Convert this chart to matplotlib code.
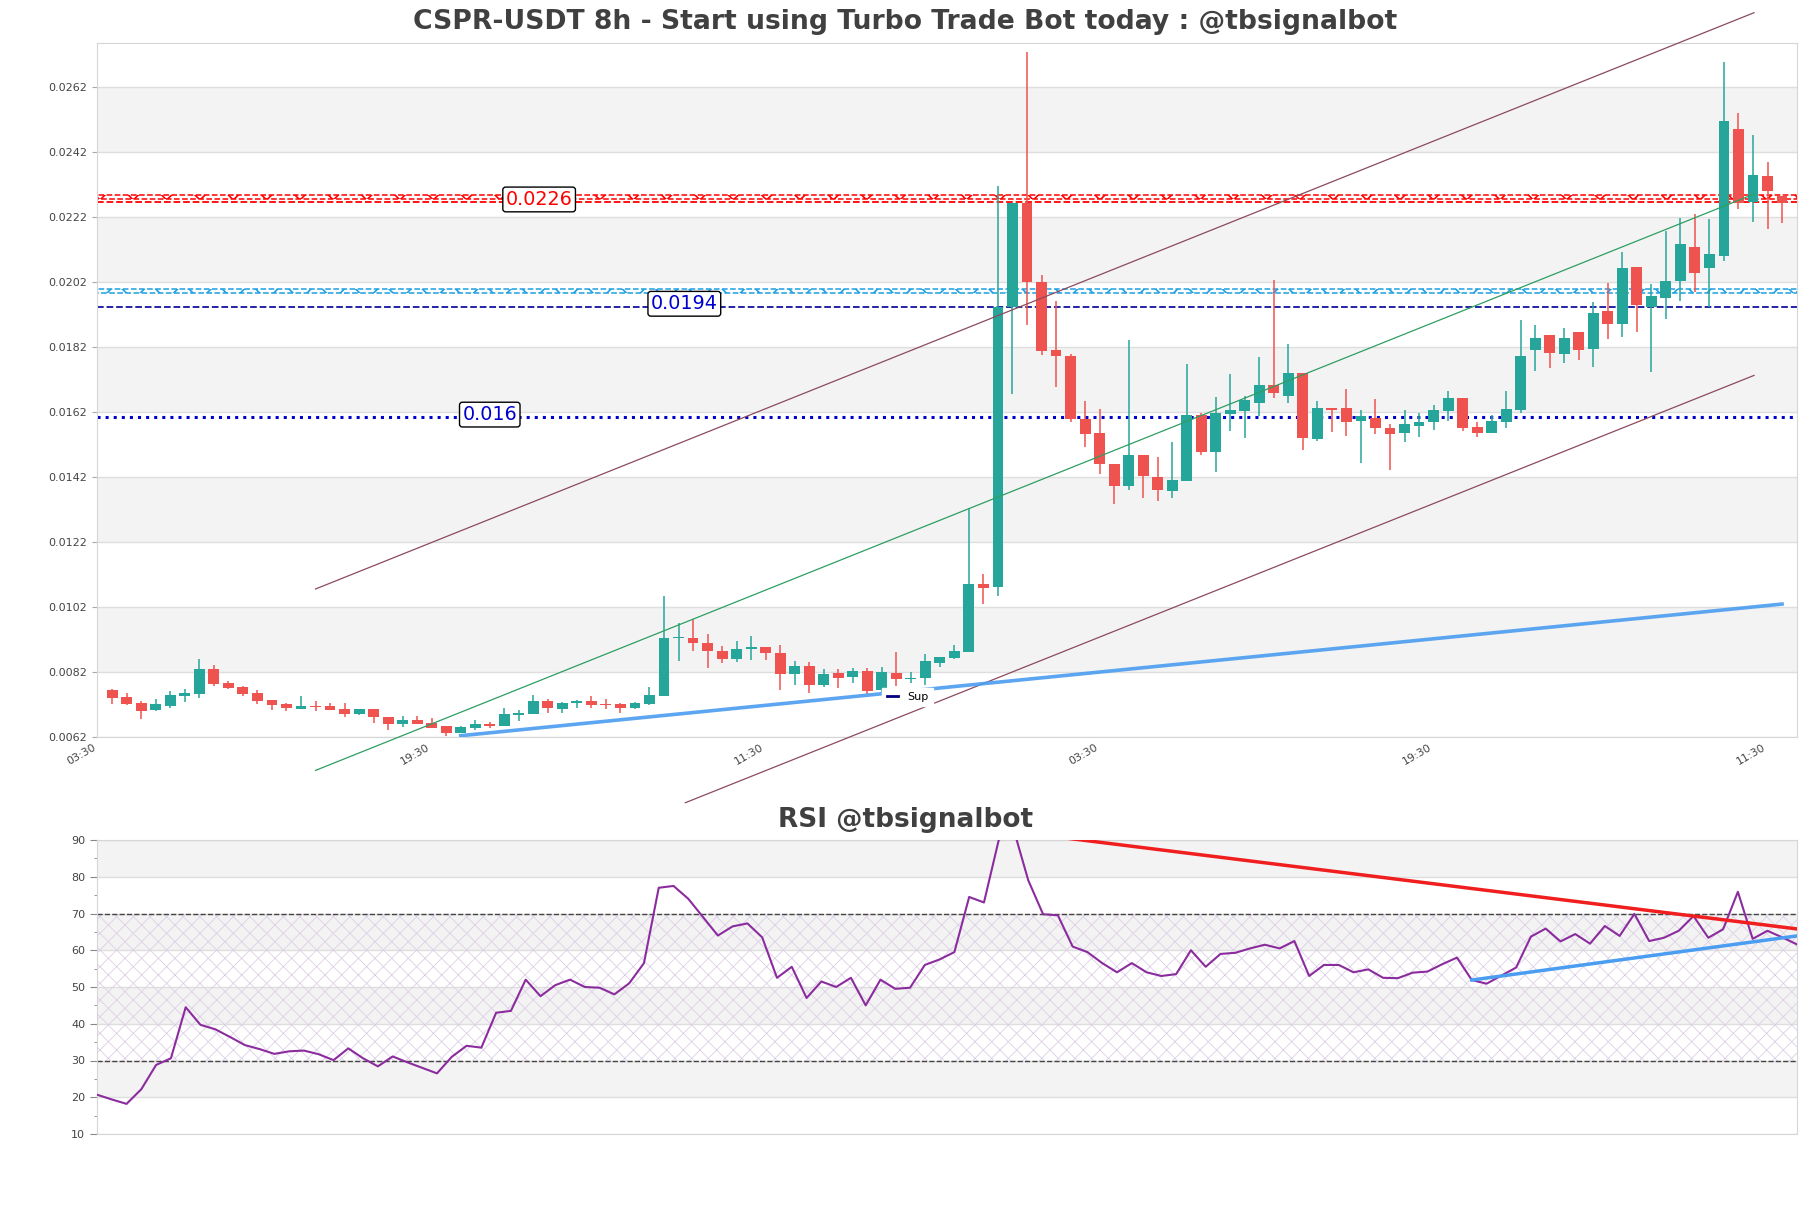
import numpy as np
import matplotlib
matplotlib.use('Agg')
import matplotlib.pyplot as plt
from matplotlib.lines import Line2D

# ---- data (8h candles, index 0..115) ----
opens = [0.007646, 0.007431, 0.007246, 0.007031, 0.007154, 0.007472, 0.007523, 0.008292, 0.007862, 0.007738,
         0.007554, 0.007338, 0.007215, 0.007072, 0.007154, 0.007154, 0.007062, 0.006918, 0.007072, 0.006815,
         0.00661, 0.006723, 0.006631, 0.006538, 0.006333, 0.006487, 0.0066, 0.006549, 0.006887, 0.006897,
         0.007308, 0.007072, 0.007236, 0.007308, 0.007215, 0.007205, 0.007103, 0.007226, 0.007472, 0.009236,
         0.009236, 0.009092, 0.008836, 0.00861, 0.008918, 0.008959, 0.008774, 0.008138, 0.008385, 0.0078,
         0.008169, 0.008056, 0.008231, 0.007646, 0.008169, 0.007974, 0.008005, 0.008487, 0.008641, 0.008815,
         0.010897, 0.010806, 0.019446, 0.022634, 0.0202, 0.018102, 0.017935, 0.015975, 0.015551, 0.014588,
         0.013938, 0.014891, 0.014185, 0.013772, 0.014085, 0.016123, 0.014982, 0.016145, 0.016233, 0.01648,
         0.01704, 0.016705, 0.017409, 0.015372, 0.016323, 0.016323, 0.015932, 0.016009, 0.015706, 0.015563,
         0.015779, 0.015883, 0.01624, 0.016621, 0.015728, 0.015545, 0.015901, 0.016262, 0.018108, 0.018569,
         0.017975, 0.018652, 0.018148, 0.019308, 0.018917, 0.020652, 0.01944, 0.019717, 0.020221, 0.021268,
         0.02064, 0.021009, 0.024898, 0.022652, 0.023461, 0.022855]
highs = [0.007667, 0.007544, 0.007308, 0.007369, 0.007615, 0.007667, 0.0086, 0.008415, 0.007923, 0.007769,
         0.007646, 0.007338, 0.007246, 0.007451, 0.007308, 0.007246, 0.007246, 0.007062, 0.007072, 0.006815,
         0.006836, 0.006836, 0.006785, 0.006538, 0.006538, 0.006713, 0.006662, 0.007092, 0.007031, 0.007482,
         0.007369, 0.007267, 0.007338, 0.007462, 0.007359, 0.007236, 0.007267, 0.007728, 0.010538, 0.009697,
         0.00982, 0.009369, 0.009, 0.009144, 0.009308, 0.008959, 0.009041, 0.008538, 0.008508, 0.008282,
         0.008282, 0.008323, 0.008323, 0.008364, 0.008815, 0.0082, 0.008754, 0.008662, 0.00902, 0.013236,
         0.011205, 0.023169, 0.022634, 0.027277, 0.02043, 0.019624, 0.01799, 0.016535, 0.01629, 0.0146,
         0.018415, 0.014891, 0.014812, 0.015283, 0.017689, 0.016178, 0.016658, 0.017375, 0.01668, 0.017889,
         0.020262, 0.018305, 0.017409, 0.016535, 0.016323, 0.016905, 0.016255, 0.016591, 0.015842, 0.016262,
         0.01616, 0.016415, 0.016846, 0.016621, 0.015901, 0.016108, 0.016856, 0.01903, 0.018877, 0.018569,
         0.018794, 0.018652, 0.019594, 0.02016, 0.021114, 0.020652, 0.020129, 0.021769, 0.02216, 0.022292,
         0.022129, 0.02696, 0.025409, 0.024723, 0.023901, 0.022855]
lows = [0.007226, 0.007195, 0.006764, 0.00701, 0.007103, 0.007287, 0.00741, 0.00778, 0.007687, 0.007472,
        0.007226, 0.007041, 0.00701, 0.007072, 0.00701, 0.007041, 0.006826, 0.006887, 0.006641, 0.006426,
        0.006497, 0.00661, 0.006487, 0.006241, 0.006333, 0.006426, 0.006467, 0.006538, 0.006703, 0.006897,
        0.006949, 0.006949, 0.007103, 0.007103, 0.007072, 0.006949, 0.007051, 0.007174, 0.007472, 0.008549,
        0.008856, 0.008333, 0.008487, 0.008497, 0.008569, 0.008569, 0.007646, 0.0078, 0.007544, 0.007749,
        0.007708, 0.007851, 0.007523, 0.007595, 0.00778, 0.007851, 0.00779, 0.008344, 0.00861, 0.008815,
        0.010292, 0.010526, 0.016769, 0.018886, 0.017957, 0.01696, 0.015898, 0.015114, 0.014277, 0.013382,
        0.013806, 0.013569, 0.013471, 0.013569, 0.014085, 0.014868, 0.014366, 0.015618, 0.015415, 0.016065,
        0.016625, 0.01648, 0.015037, 0.015317, 0.015597, 0.015474, 0.014635, 0.015529, 0.014422, 0.015286,
        0.01544, 0.015646, 0.015932, 0.015625, 0.01544, 0.015545, 0.015717, 0.016178, 0.017462, 0.017563,
        0.017717, 0.0178, 0.017594, 0.018437, 0.018498, 0.018671, 0.01744, 0.019052, 0.019625, 0.019902,
        0.01944, 0.020846, 0.022437, 0.022055, 0.021821, 0.022006]
closes = [0.00741, 0.007226, 0.00701, 0.007215, 0.007492, 0.007554, 0.008292, 0.007841, 0.007718, 0.007533,
          0.007318, 0.007195, 0.007103, 0.007154, 0.007133, 0.007041, 0.006918, 0.007062, 0.006805, 0.00661,
          0.006723, 0.00661, 0.006487, 0.006333, 0.006508, 0.0066, 0.006549, 0.006908, 0.006928, 0.007308,
          0.007082, 0.007236, 0.007308, 0.007195, 0.007195, 0.007103, 0.007236, 0.007482, 0.009236, 0.009277,
          0.009103, 0.008856, 0.00861, 0.008897, 0.008959, 0.008795, 0.008149, 0.008385, 0.0078, 0.008128,
          0.008015, 0.008231, 0.007626, 0.00819, 0.007974, 0.008015, 0.008538, 0.008662, 0.008836, 0.010908,
          0.010795, 0.019446, 0.022634, 0.020185, 0.01808, 0.017935, 0.015975, 0.015508, 0.014588, 0.013938,
          0.014868, 0.014218, 0.013806, 0.014108, 0.016123, 0.014982, 0.016178, 0.016255, 0.016569, 0.01704,
          0.016794, 0.017409, 0.015415, 0.016323, 0.016267, 0.015898, 0.016065, 0.015695, 0.015538, 0.015821,
          0.015883, 0.016262, 0.016621, 0.015717, 0.015545, 0.015923, 0.016283, 0.017923, 0.018486, 0.018006,
          0.018486, 0.018108, 0.019237, 0.018898, 0.020621, 0.019492, 0.019769, 0.020231, 0.021369, 0.020486,
          0.021052, 0.025154, 0.022621, 0.023483, 0.023009, 0.022621]

rsi = [20.7, 19.4, 18.2, 22.2, 28.8, 30.6, 44.5, 39.7, 38.5, 36.4,
       34.2, 33.1, 31.8, 32.5, 32.7, 31.7, 30.1, 33.3, 30.6, 28.4,
       31.1, 29.5, 28.0, 26.5, 31.0, 34.0, 33.5, 43.0, 43.5, 52.0,
       47.5, 50.5, 52.0, 50.0, 49.8, 48.0, 51.0, 56.5, 77.0, 77.5,
       74.0, 69.0, 64.0, 66.5, 67.3, 63.5, 52.5, 55.5, 47.0, 51.5,
       50.0, 52.5, 45.0, 52.0, 49.5, 49.8, 56.0, 57.5, 59.5, 74.5,
       73.0, 90.0, 93.0, 79.0, 69.8, 69.5, 61.0, 59.5, 56.5, 54.0,
       56.5, 54.0, 53.0, 53.5, 60.0, 55.5, 59.0, 59.3, 60.5, 61.5,
       60.5, 62.5, 53.0, 56.0, 56.0, 54.0, 54.8, 52.5, 52.4, 53.9,
       54.2, 56.2, 58.0, 51.9, 50.9, 53.1, 55.3, 63.7, 65.9, 62.4,
       64.4, 61.8, 66.6, 63.9, 69.9, 62.5, 63.4, 65.3, 69.3, 63.4,
       65.7, 75.9, 63.1, 65.3, 63.5, 61.6]

tick_pos = [-1, 22, 45, 68, 91, 114]
tick_labels = ['03:30', '19:30', '11:30', '03:30', '19:30', '11:30']
price_ticks = [0.0062, 0.0082, 0.0102, 0.0122, 0.0142, 0.0162, 0.0182, 0.0202, 0.0222, 0.0242, 0.0262]
rsi_ticks = [10, 20, 30, 40, 50, 60, 70, 80, 90]

# levels
res_level = 0.02265
res_zone = (0.022754, 0.022877)
mid_level = 0.01944
mid_zone = (0.019852, 0.019994)
sup_level = 0.016037
level_labels = ['0.0226', '0.0194', '0.016']
label_x = [29.4, 39.4, 26.0]
label_y = [0.02274, 0.01953, 0.01612]

# trend / channel lines (x index, price)
sup_x = [24, 115]
sup_y = [0.00624, 0.01029]
chan_up_x = [14, 113.07]
chan_up_y = [0.010754, 0.028486]
chan_mid_x = [14, 113.07]
chan_mid_y = [0.005172, 0.022905]
chan_low_x = [39.47, 113.07]
chan_low_y = [0.004178, 0.017326]

rsi_res_x = [62, 115]
rsi_res_y = [92.3, 65.8]
rsi_sup_x = [93, 115]
rsi_sup_y = [51.9, 63.9]

# ---- figure ----
fig = plt.figure(figsize=(18.11, 12.08), dpi=100)
ax = fig.add_axes([97 / 1811, 1 - 737 / 1208, 1700 / 1811, 694 / 1208])
ax2 = fig.add_axes([97 / 1811, 1 - 1134 / 1208, 1700 / 1811, 294 / 1208])

band = '#f3f3f3'
spine_c = '#d6d6d6'
green = '#26a69a'
red = '#ef5350'

n = len(opens)
x = np.arange(n)

# price panel
ax.set_xlim(-1.05, 116.03)
ax.set_ylim(0.0062, 0.027554)
for lo in [0.0082, 0.0122, 0.0162, 0.0202, 0.0242]:
    ax.axhspan(lo, lo + 0.002, color=band, zorder=0, lw=0)
ax.set_axisbelow(True)
ax.grid(axis='y', color='#dedede', lw=1)
ax.set_yticks(price_ticks)
ax.set_yticklabels(['%.4f' % t for t in price_ticks])
ax.set_xticks(tick_pos)
ax.set_xticklabels(tick_labels, rotation=30, ha='right')
ax.tick_params(axis='both', labelsize=8, labelcolor='#444444', color='#aaaaaa')
ax.tick_params(axis='x', length=0, pad=4)
for s in ax.spines.values():
    s.set_color(spine_c)

cols = [green if c >= o else red for o, c in zip(opens, closes)]
bottoms = [min(o, c) for o, c in zip(opens, closes)]
heights = [max(abs(c - o), 0.00003) for o, c in zip(opens, closes)]
ax.vlines(x, lows, highs, colors=cols, lw=1.1, zorder=3)
ax.bar(x, heights, bottom=bottoms, width=0.75, color=cols, zorder=4)

# horizontal levels
plt.rcParams['hatch.linewidth'] = 1.2
ax.fill_between([-1.05, 116.03], res_zone[0], res_zone[1], facecolor='none', edgecolor='red',
                hatch='x', linestyle='--', lw=1.1, zorder=2)
ax.axhline(res_level, color='red', ls='--', lw=1.3, zorder=2)
ax.fill_between([-1.05, 116.03], mid_zone[0], mid_zone[1], facecolor='none', edgecolor='#1e9fe0',
                hatch='x', linestyle='--', lw=1.1, zorder=2)
ax.axhline(mid_level, color='#12129e', ls='--', lw=1.3, zorder=2)
ax.axhline(sup_level, color='#0000cc', ls=':', lw=2.2, zorder=2)

for ly, txt, lx, c in zip(label_y, level_labels, label_x, ['red', '#0000cc', '#0000cc']):
    ax.text(lx, ly, txt, color=c, fontsize=13.8, ha='center', va='center', zorder=6,
            bbox=dict(boxstyle='round,pad=0.15', fc='white', ec='black', lw=1))

# channel and support lines
ax.plot(chan_up_x, chan_up_y, color='#8c4a5e', lw=0.9, clip_on=False, zorder=5)
ax.plot(chan_mid_x, chan_mid_y, color='#2e9e62', lw=0.9, clip_on=False, zorder=5)
ax.plot(chan_low_x, chan_low_y, color='#8c4a5e', lw=0.9, clip_on=False, zorder=5)
ax.plot(sup_x, sup_y, color='#4a9df0', lw=2.6, alpha=0.9, zorder=5)

h = Line2D([], [], color='#000080', lw=2)
leg = ax.legend(handles=[h], labels=['Sup'], loc='center', bbox_to_anchor=(0.4768, 0.0576),
                fontsize=8, handlelength=1.0, framealpha=1, edgecolor='white', fancybox=False)
leg.set_zorder(10)

# RSI panel
plt.rcParams['hatch.linewidth'] = 0.6
ax2.set_xlim(0, n - 1)
ax2.set_ylim(10, 90)
for lo in [20, 40, 60, 80]:
    ax2.axhspan(lo, lo + 10, color=band, zorder=0, lw=0)
ax2.axhspan(30, 70, facecolor='none', edgecolor='#ddd0e6', hatch='xx', lw=0, zorder=1)
ax2.set_axisbelow(True)
ax2.grid(axis='y', color='#dedede', lw=1)
ax2.axhline(70, color='#444444', ls='--', lw=1, zorder=2)
ax2.axhline(30, color='#444444', ls='--', lw=1, zorder=2)
ax2.plot(x, rsi, color='#8b2c9e', lw=1.5, zorder=4)
ax2.plot(rsi_res_x, rsi_res_y, color='#f01e1e', lw=2.5, zorder=5)
ax2.plot(rsi_sup_x, rsi_sup_y, color='#4a9df0', lw=2.5, zorder=5)
ax2.set_yticks(rsi_ticks)
ax2.set_yticks([15, 25, 35, 45, 55, 65, 75, 85], minor=True)
ax2.set_xticks([])
ax2.tick_params(axis='y', labelsize=8, labelcolor='#444444', color='#888888', length=5)
ax2.tick_params(axis='y', which='minor', length=2.5, color='#888888')
for s in ax2.spines.values():
    s.set_color(spine_c)

fig.text(0.5, 1 - 22 / 1208, 'CSPR-USDT 8h - Start using Turbo Trade Bot today : @tbsignalbot',
         ha='center', va='center', fontsize=19.2, fontweight='bold', color='#404040')
fig.text(0.5, 1 - 820 / 1208, 'RSI @tbsignalbot', ha='center', va='center',
         fontsize=19, fontweight='bold', color='#404040')

plt.savefig('out.png', dpi=100)
